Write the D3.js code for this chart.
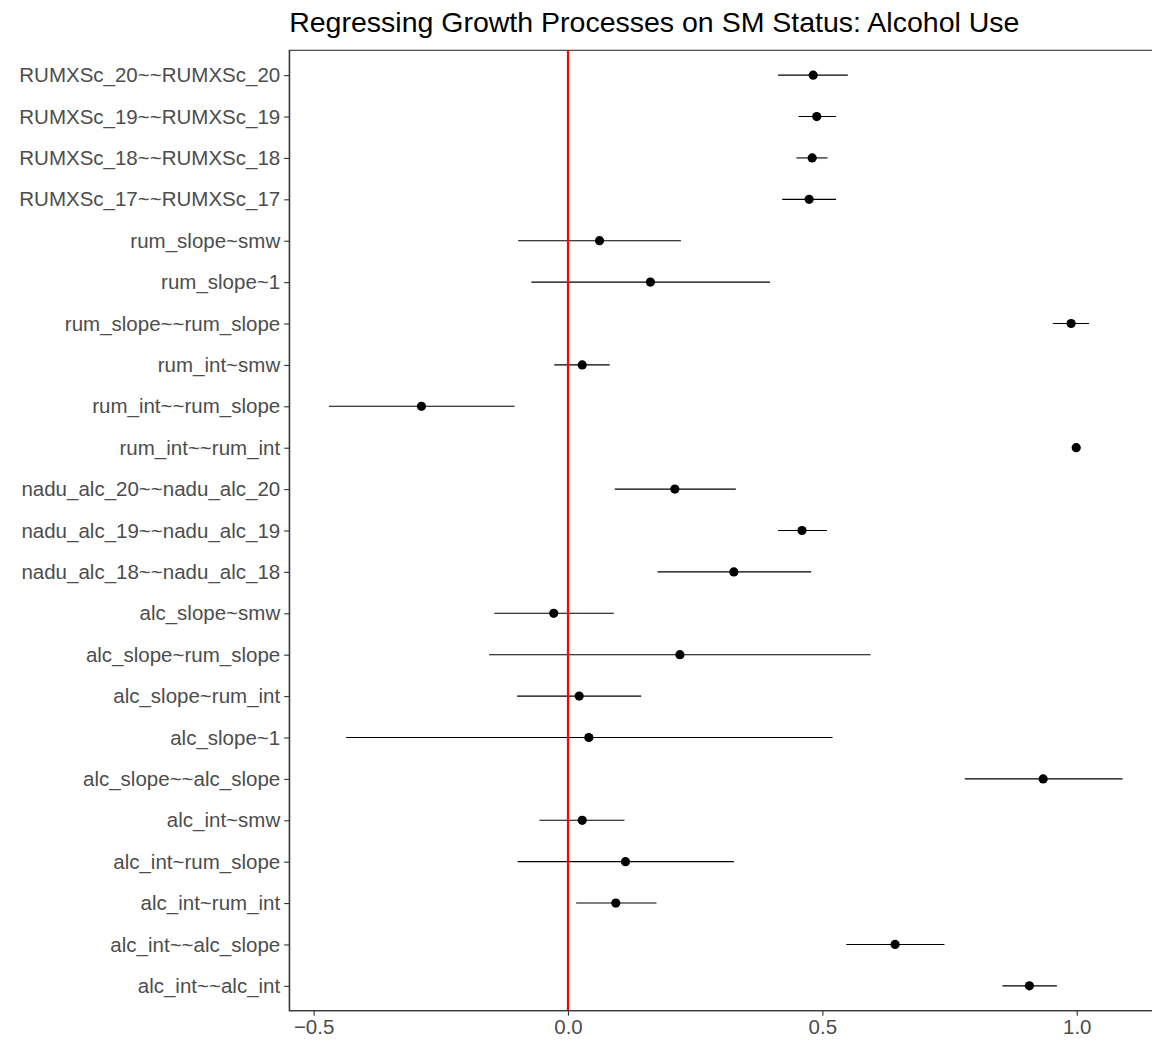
<!DOCTYPE html>
<html>
<head>
<meta charset="utf-8">
<script src="https://cdn.jsdelivr.net/npm/d3@7"></script>
<style>
  body { margin: 0; background: #fff; }
  svg { display: block; font-family: "Liberation Sans", Arial, Helvetica, sans-serif; }
</style>
</head>
<body>
<svg id="chart"></svg>
<script>
// parameter names, top to bottom
let params = [
  "RUMXSc_20~~RUMXSc_20", "RUMXSc_19~~RUMXSc_19", "RUMXSc_18~~RUMXSc_18", "RUMXSc_17~~RUMXSc_17",
  "rum_slope~smw", "rum_slope~1", "rum_slope~~rum_slope", "rum_int~smw", "rum_int~~rum_slope",
  "rum_int~~rum_int", "nadu_alc_20~~nadu_alc_20", "nadu_alc_19~~nadu_alc_19", "nadu_alc_18~~nadu_alc_18",
  "alc_slope~smw", "alc_slope~rum_slope", "alc_slope~rum_int", "alc_slope~1", "alc_slope~~alc_slope",
  "alc_int~smw", "alc_int~rum_slope", "alc_int~rum_int", "alc_int~~alc_slope", "alc_int~~alc_int"
];
let estimates = [0.482, 0.489, 0.480, 0.474, 0.062, 0.162, 0.989, 0.028, -0.288, 0.999, 0.210, 0.460, 0.326,
  -0.028, 0.220, 0.022, 0.041, 0.934, 0.028, 0.113, 0.094, 0.643, 0.907];
let lower = [0.413, 0.453, 0.449, 0.421, -0.098, -0.072, 0.953, -0.027, -0.470, 0.999, 0.092, 0.413, 0.176,
  -0.145, -0.155, -0.100, -0.436, 0.780, -0.056, -0.099, 0.016, 0.547, 0.854];
let upper = [0.550, 0.527, 0.510, 0.527, 0.222, 0.397, 1.024, 0.082, -0.105, 0.999, 0.330, 0.509, 0.478,
  0.090, 0.595, 0.144, 0.520, 1.090, 0.111, 0.326, 0.174, 0.740, 0.961];
let xTicks = [-0.5, 0.0, 0.5, 1.0];
let title = "Regressing Growth Processes on SM Status: Alcohol Use";

let width = 1152;
let height = 1042;
let panelLeft = 289.2;
let panelRight = 1162.2; // runs past the image edge, like the reference
let panelTop = 50.3;
let panelBottom = 1010.7;

let svg = d3.select("#chart").attr("width", width).attr("height", height);

let xScale = d3.scaleLinear().domain([-0.548, 1.168]).range([panelLeft, panelRight]);
let yScale = d3.scalePoint().domain(params).range([panelTop, panelBottom]).padding(0.6);

let rows = params.map((p, i) => ({ name: p, est: estimates[i], lo: lower[i], hi: upper[i] }));

// panel border
svg.append("rect")
  .attr("x", panelLeft).attr("y", panelTop)
  .attr("width", panelRight - panelLeft).attr("height", panelBottom - panelTop)
  .attr("fill", "none").attr("stroke", "#333").attr("stroke-width", 1.1);

// error bars
svg.append("g").selectAll("line")
  .data(rows)
  .join("line")
  .attr("x1", (d) => xScale(d.lo))
  .attr("x2", (d) => xScale(d.hi))
  .attr("y1", (d) => yScale(d.name))
  .attr("y2", (d) => yScale(d.name))
  .attr("stroke", "black")
  .attr("stroke-width", 1.1);

// zero line
svg.append("line")
  .attr("x1", xScale(0)).attr("x2", xScale(0))
  .attr("y1", panelTop).attr("y2", panelBottom)
  .attr("stroke", "#ff0000").attr("stroke-width", 2.2);

// points
svg.append("g").selectAll("circle")
  .data(rows)
  .join("circle")
  .attr("cx", (d) => xScale(d.est))
  .attr("cy", (d) => yScale(d.name))
  .attr("r", 4.6)
  .attr("fill", "black");

// axes
let xAxis = d3.axisBottom(xScale).tickValues(xTicks).tickFormat((d) => d3.format(".1f")(d).replace("-", "\u2212")).tickSize(5).tickSizeOuter(0).tickPadding(4);
let yAxis = d3.axisLeft(yScale).tickSize(5).tickSizeOuter(0).tickPadding(4);

let gx = svg.append("g").attr("transform", "translate(0," + panelBottom + ")").call(xAxis);
let gy = svg.append("g").attr("transform", "translate(" + panelLeft + ",0)").call(yAxis);

[gx, gy].forEach((g) => {
  g.select(".domain").attr("stroke", "#333").attr("stroke-width", 1.1);
  g.selectAll(".tick line").attr("stroke", "#333").attr("stroke-width", 1.1);
  g.selectAll(".tick text")
    .attr("fill", "#4d4d4d")
    .style("font-size", "20.5px")
    .style("font-family", "'Liberation Sans', Arial, Helvetica, sans-serif");
});
gx.select(".domain").attr("d", "M" + panelLeft + ",0H" + panelRight);

// title
svg.append("text")
  .attr("x", panelLeft)
  .attr("y", 32)
  .attr("fill", "black")
  .style("font-size", "28.5px")
  .text(title);
</script>
</body>
</html>
